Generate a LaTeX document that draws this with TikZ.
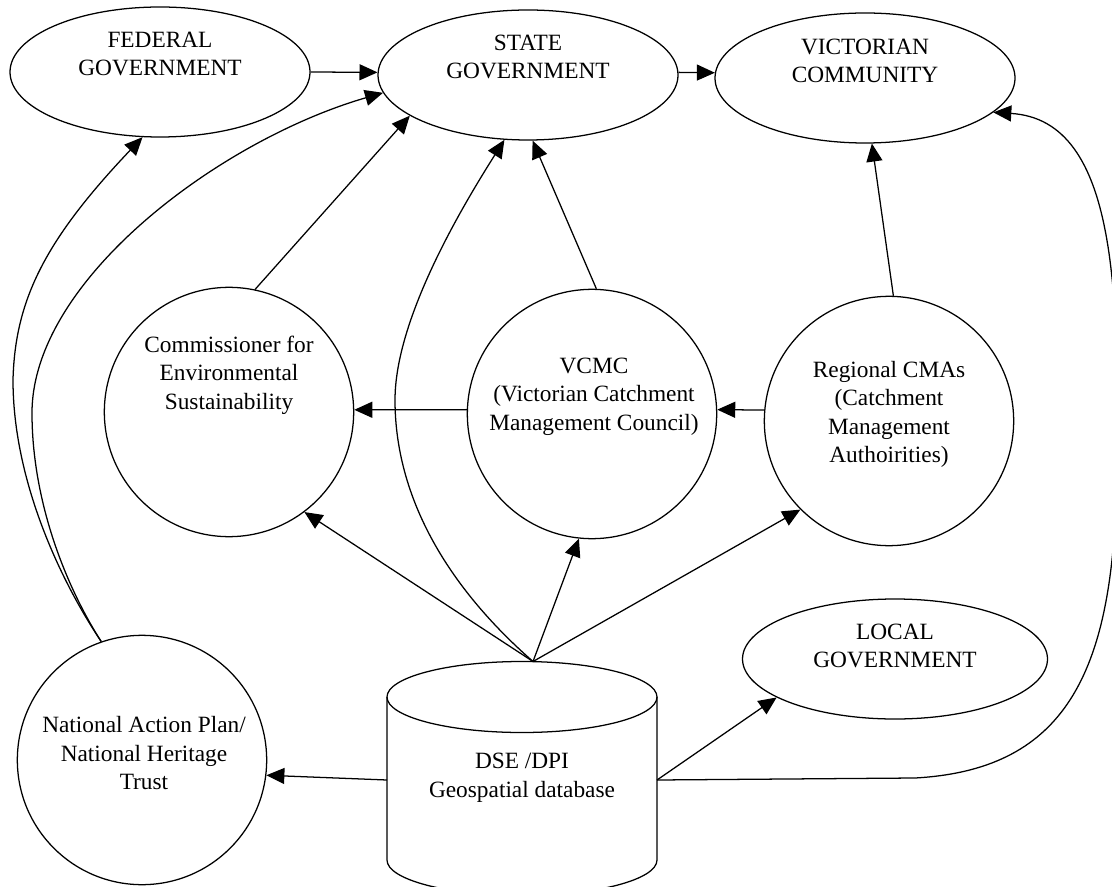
\documentclass[tikz,border=0pt]{standalone}
\usepackage{fontspec}
\setmainfont{Liberation Serif}
\usetikzlibrary{arrows.meta,shapes.geometric}
\tikzset{oval/.style={draw,ellipse,inner sep=0pt,minimum width=225pt,minimum height=97.5pt}}
\tikzset{disc/.style={draw,circle,inner sep=0pt,minimum size=187pt}}
\tikzset{lbl/.style={align=center,inner sep=0pt,font=\fontsize{17.5}{21.4}\selectfont}}

\begin{document}
\begin{tikzpicture}[->, >={Triangle[length=13.5pt,width=12pt]}, line width=0.95pt, x=0.75pt, y=0.75pt]
        \useasboundingbox (0,0) rectangle (1112,-887);
        \node[oval,label={[lbl,yshift=13.5pt]center:FEDERAL\\GOVERNMENT}] (fed) at (160,-72) {};
        \node[oval,label={[lbl,yshift=13.5pt]center:STATE\\GOVERNMENT}] (state) at (528,-75) {};
        \node[oval,label={[lbl,yshift=12.75pt]center:VICTORIAN\\COMMUNITY}] (vic) at (865,-78) {};
        \node[oval,minimum width=228.75pt,minimum height=90pt,label={[lbl,yshift=9.75pt]center:LOCAL\\GOVERNMENT}] (local) at (895,-659) {};
        \node[disc,label={[lbl,yshift=27.75pt]center:Commissioner for\\Environmental\\Sustainability}] (comm) at (229,-412) {};
        \node[disc,label={[lbl,yshift=13pt,xshift=1.5pt]center:VCMC\\(Victorian Catchment\\Management Council)}] (vcmc) at (592,-414) {};
        \node[disc,label={[lbl,yshift=5pt]center:Regional CMAs\\(Catchment\\Management\\Authoirities)}] (cma) at (889,-421) {};
        \node[disc,label={[lbl,yshift=5pt,xshift=1.5pt]center:National Action Plan/\\National Heritage\\Trust}] (nap) at (142,-760) {};
        % database cylinder
        \draw[-] (387,-697) -- (387,-860) arc[start angle=180,end angle=360,x radius=101.25pt,y radius=26.625pt] -- (657,-697);
        \draw[-] (522,-697) ellipse [x radius=101.25pt,y radius=26.625pt];
        \node[lbl] (dse) at (522,-778) {DSE /DPI\\Geospatial database};
        \coordinate (dsetop) at (533,-661.5);
        \coordinate (dseleft) at (387,-780);
        \coordinate (dseright) at (657,-780);
        \path (fed.east) edge (state.179);
        \path (state.1) edge (vic.178);
        \path (comm.78) edge (state.199);
        \path (vcmc.88) edge (state.274);
        \path (cma.88) edge (vic.276);
        \path (vcmc.178) edge (comm.1);
        \path (cma.175) edge (vcmc.2);
        \path (dsetop) edge (comm.307);
        \path (dsetop) edge (vcmc.264);
        \path (dsetop) edge (cma.225);
        \path (dseleft) edge (nap.353);
        \path (dseright) edge (local.198);
        \draw (dsetop) .. controls (440,-580) and (395,-490) .. (395,-400) .. controls (395,-320) and (460,-210) .. (state.250);
        \draw (nap.109) .. controls (60,-580) and (13,-480) .. (13,-380) .. controls (15,-300) and (45,-240) .. (fed.255);
        \draw (nap.109) .. controls (65,-585) and (32,-500) .. (32,-413) .. controls (32,-280) and (220,-140) .. (state.187);
        \draw (dseright) -- (915,-778) .. controls (1060,-770) and (1110,-680) .. (1116,-500) .. controls (1120,-300) and (1120,-120) .. (vic.345);
\end{tikzpicture}
\end{document}
